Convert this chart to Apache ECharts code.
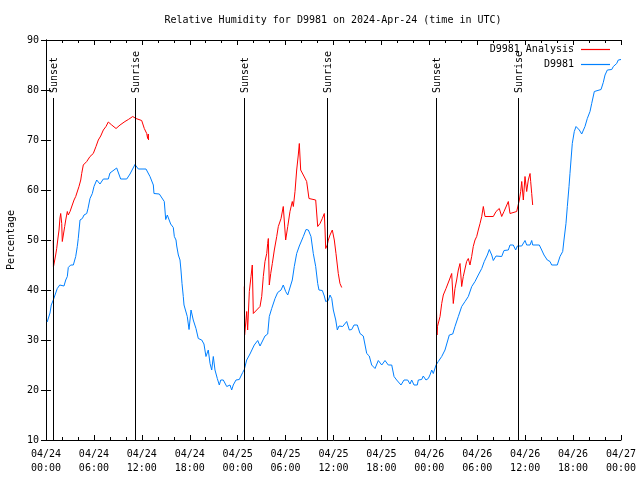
<!DOCTYPE html>
<html>
<head>
<meta charset="utf-8">
<script src="https://cdn.jsdelivr.net/npm/echarts@6/dist/echarts.min.js"></script>
<style>html,body{margin:0;padding:0;background:#fff}#chart{width:640px;height:480px}</style>
</head>
<body>
<div id="chart"></div>
<script>
// Hours since 2024-04-24 00:00 UTC
const xTickLabels = ['04/24\n00:00','04/24\n06:00','04/24\n12:00','04/24\n18:00','04/25\n00:00','04/25\n06:00','04/25\n12:00','04/25\n18:00','04/26\n00:00','04/26\n06:00','04/26\n12:00','04/26\n18:00','04/27\n00:00'];

const sunHours = [0.88, 11.14, 24.79, 35.19, 48.84, 59.10];
const sunLabels = ['Sunset','Sunrise','Sunset','Sunrise','Sunset','Sunrise'];

const obsHours = [0.15,0.25,0.5,0.66,0.91,1.13,1.41,1.72,2.25,2.47,2.67,2.79,3.09,3.42,3.72,3.92,4.04,4.26,4.55,4.76,5.1,5.26,5.51,5.8,6.01,6.35,6.55,6.76,7.18,7.8,8.01,8.85,9.05,9.35,10.11,10.52,11.14,11.56,12.52,13.02,13.44,13.52,14.19,14.81,14.99,15.19,15.44,15.61,15.94,16.07,16.28,16.37,16.57,16.78,16.9,17.03,17.19,17.28,17.49,17.69,17.91,18.16,18.44,18.78,19.07,19.5,19.78,20.03,20.32,20.54,20.75,20.95,21.16,21.45,21.7,21.88,22.2,22.63,23.04,23.25,23.45,23.79,24.2,24.63,24.83,25.13,25.54,26.08,26.51,26.8,27.42,27.76,27.96,28.26,28.68,29.01,29.43,29.71,30.01,30.27,30.47,30.84,31.09,31.39,31.72,32.22,32.56,32.85,33.18,33.47,33.77,34.02,34.18,34.6,34.85,35.02,35.35,35.56,35.78,35.98,36.28,36.48,36.69,37.15,37.65,37.98,38.28,38.57,38.98,39.32,39.73,40.16,40.48,40.78,41.2,41.61,42.04,42.45,42.86,43.29,43.58,43.91,44.45,44.83,45.29,45.58,45.79,46.08,46.49,46.62,47.04,47.24,47.58,47.87,48.08,48.3,48.5,48.84,49.12,49.55,49.96,50.5,50.93,51.21,51.63,52.05,52.47,52.88,53.31,53.72,54.13,54.56,54.88,55.26,55.51,55.81,56.01,56.35,57.06,57.35,57.89,58.1,58.51,58.81,59.02,59.57,59.98,60.19,60.61,60.82,60.94,61.77,62.07,62.36,62.77,63.11,63.32,64.02,64.36,64.7,64.86,65.11,65.28,65.49,65.61,65.74,65.9,66.15,66.37,66.53,66.78,67.08,67.28,67.49,67.78,68.12,68.33,68.66,68.83,69.5,69.78,70.0,70.29,70.84,71.04,71.46,71.66,72.0];
const obsValues = [33.6,34,35.4,37,38,39,40.3,41,40.8,42,42.7,44.5,45,45,46.7,48.7,50.3,54,54.3,55,55.3,56.3,58.3,59.3,60.7,62,62,61.2,62.2,62.2,63.4,64.4,64.4,62.2,62.2,63.2,65.1,64.2,64.2,62.7,61,59.3,59.2,57.7,54.1,55,55,53.2,52.5,50.7,50,48.8,47,46,44,41.3,38.7,37,36.7,34.7,32.1,36,34,32.3,30.3,30,29.2,26.7,28,25.3,24,26.7,24,22.3,21,22,22,20.7,21,20,21,22,22.1,23.5,24.1,26,27.2,29,29.9,28.8,30.8,31.2,34.7,36.3,38.3,39.5,40,41,39.7,39,39,42,44.7,47.3,48.8,50.7,52.1,52,50.7,47.3,44.7,41.3,40,39.9,38.8,37.7,37.9,39,38.3,36,34,32,32.8,32.7,33.7,32,32.1,33,33,31.3,30.8,27.3,26.8,25,24.3,25.9,25,25.9,25,25,22.7,22,21,22,22,21.2,22,21,21,22,22.1,22.8,22,22.3,23,24,23.3,25,25.7,26.7,28,31,31.2,32.7,34.7,36.7,37.7,38.7,40.7,41.7,43,44.3,45.7,47,48.1,47,45.9,46.8,46.7,47.9,48,49,49,48,48.8,48.8,49.9,49,49,49.9,49,49,48,47,46,45.7,45,45,46.7,47.7,50,53.3,56.7,60.7,63.3,66,69.3,71.7,72.7,73,72,71.2,71.2,72.7,74.3,75.7,77.3,79.7,80.1,80.1,81.5,83,84,84.1,84.7,85.3,86,86.1];

const anaHours1 = [0.91,0.93,1.21,1.34,1.5,1.63,1.75,1.84,1.97,2.04,2.17,2.34,2.47,2.67,2.79,3.01,3.29,3.51,3.72,3.92,4.13,4.35,4.47,4.67,5.1,5.51,5.92,6.26,6.55,6.85,7.18,7.51,7.8,8.23,8.77,9.27,9.89,10.31,10.86,11.27,11.98,12.31,12.61,12.73,12.81,12.84];
const anaValues1 = [50,44.6,47,48.3,50.4,52,54.4,55.3,53.3,49.7,51,52.7,54,55.7,55,55.7,57,58,58.7,59,60.7,62,63.3,65,65.7,66.7,67.3,68.7,70,70.8,72,72.7,73.6,73,72.3,73,73.7,74.1,74.7,74.3,73.9,72.3,71.3,70.3,71.2,70];

const anaHours2 = [24.83,24.87,25.04,25.13,25.25,25.46,25.67,25.83,25.96,26.8,27.01,27.21,27.42,27.64,27.76,27.84,27.96,28.14,28.34,28.59,28.89,29.09,29.43,29.71,29.84,30.01,30.27,30.55,30.84,30.97,31.18,31.39,31.59,31.72,31.89,32.22,32.64,32.93,33.18,33.77,34.02,34.31,34.6,34.85,34.94,35.02,35.22,35.35,35.56,35.85,36.1,36.31,36.6,36.81,37.03];
const anaValues2 = [40.7,31,34,35.7,32,39.7,42.7,45,35.3,36.7,38.7,42.7,45.7,47.3,49.3,50.3,41,43.3,45.3,48,50.7,52.7,54.3,56.7,57,50,52.7,55.7,57.7,56.7,59.7,64,67,69.3,64,63,61.7,58.3,58.1,58,52.7,53.3,54.3,55.3,52,48.3,49,50,51,52,50,47.3,43.3,41.3,40.5];

const anaHours3 = [48.9,48.96,49.02,49.34,49.55,49.75,50.09,50.5,50.8,51.0,51.21,51.42,51.63,51.84,52.05,52.25,52.67,52.88,53.09,53.3,53.5,53.72,53.93,54.13,54.35,54.56,54.76,54.88,54.97,56.01,56.35,56.76,57.06,57.35,57.89,58.1,58.94,59.14,59.27,59.44,59.57,59.77,59.98,60.19,60.39,60.61,60.69,60.82,60.94];
const anaValues3 = [36,31,32.7,34.7,37.3,39,40.3,42,43.3,37.3,40.3,42,44,45.3,40.7,42.7,45.7,46.3,45,46.7,48.7,50,50.7,52,53.3,54.7,56.7,57,54.7,54.7,55.7,56.3,54.7,55.7,57.7,55.3,55.7,56,58,59.7,61.7,58,62.7,59.7,62,63.3,61.7,59.3,57];

const FONT = '"DejaVu Sans Mono", "Liberation Mono", monospace';
const zip = (a, b) => a.map((h, i) => [h, b[i]]);

const chart = echarts.init(document.getElementById('chart'), null, {renderer: 'canvas'});

const xBase = {
  type: 'value', min: 0, max: 72, interval: 6,
  axisLine: {show: true, lineStyle: {color: '#000', width: 1}},
  axisTick: {show: true, inside: true, length: 5, lineStyle: {color: '#000'}},
  minorTick: {show: true, splitNumber: 3, length: 3, lineStyle: {color: '#000'}},
  splitLine: {show: false}
};
const yBase = {
  type: 'value', min: 10, max: 90, interval: 10,
  axisLine: {show: true, lineStyle: {color: '#000', width: 1}},
  axisTick: {show: true, inside: true, length: 5, lineStyle: {color: '#000'}},
  splitLine: {show: false}
};

const lineCommon = {
  type: 'line', showSymbol: false, symbol: 'none', xAxisIndex: 0, yAxisIndex: 0,
  lineStyle: {width: 1}, animation: false, z: 3
};

chart.setOption({
  animation: false,
  backgroundColor: '#fff',
  title: {
    text: 'Relative Humidity for D9981 on 2024-Apr-24 (time in UTC)',
    left: 333, top: 15, textAlign: 'center', padding: 0,
    textStyle: {fontFamily: FONT, fontSize: 10, fontWeight: 'normal', color: '#000'}
  },
  legend: {
    orient: 'vertical', right: 30, top: 42, padding: 0, itemGap: 0,
    align: 'right', icon: 'rect', itemWidth: 29, itemHeight: 1.2,
    textStyle: {fontFamily: FONT, fontSize: 10, color: '#000', lineHeight: 15, padding: [0, 2, 0, 0]},
    data: ['D9981 Analysis', 'D9981']
  },
  grid: {left: 46, right: 19, top: 40, bottom: 40, containLabel: false, outerBoundsMode: 'none'},
  xAxis: [
    Object.assign({}, xBase, {
      position: 'bottom',
      axisLabel: {
        show: true, margin: 7, fontFamily: FONT, fontSize: 10, color: '#000', lineHeight: 14,
        formatter: (v) => xTickLabels[Math.round(v / 6)]
      }
    }),
    Object.assign({}, xBase, {position: 'top', axisLabel: {show: false}})
  ],
  yAxis: [
    Object.assign({}, yBase, {
      position: 'left',
      name: 'Percentage', nameLocation: 'middle', nameGap: 30, nameRotate: 90,
      nameTextStyle: {fontFamily: FONT, fontSize: 10, color: '#000'},
      axisLabel: {show: true, margin: 7, fontFamily: FONT, fontSize: 10, color: '#000'}
    }),
    Object.assign({}, yBase, {position: 'right', axisLabel: {show: false}})
  ],
  series: [
    Object.assign({}, lineCommon, {name: 'D9981 Analysis', color: '#ff0000', data: zip(anaHours1, anaValues1)}),
    Object.assign({}, lineCommon, {name: 'D9981 Analysis', color: '#ff0000', data: zip(anaHours2, anaValues2)}),
    Object.assign({}, lineCommon, {name: 'D9981 Analysis', color: '#ff0000', data: zip(anaHours3, anaValues3)}),
    Object.assign({}, lineCommon, {name: 'D9981', color: '#0080ff', data: zip(obsHours, obsValues)}),
    {
      type: 'custom', name: 'sun', xAxisIndex: 0, yAxisIndex: 0, z: 4, silent: true,
      encode: {x: 0, y: 1},
      data: sunHours.map(h => [h, 10]),
      renderItem: function (params, api) {
        const t = api.value(0);
        const top = api.coord([t, 78.4]);
        const bot = api.coord([t, 10]);
        const x = Math.round(top[0]) + 0.5;
        return {
          type: 'group',
          children: [
            {type: 'line', shape: {x1: x, y1: top[1], x2: x, y2: bot[1]}, style: {stroke: '#000', lineWidth: 1}},
            {type: 'text', x: x + 1, y: top[1] - 5, rotation: Math.PI / 2,
             style: {text: sunLabels[params.dataIndex], font: '10px ' + FONT, fill: '#000', align: 'left', verticalAlign: 'middle'}}
          ]
        };
      }
    }
  ]
});
</script>
</body>
</html>
